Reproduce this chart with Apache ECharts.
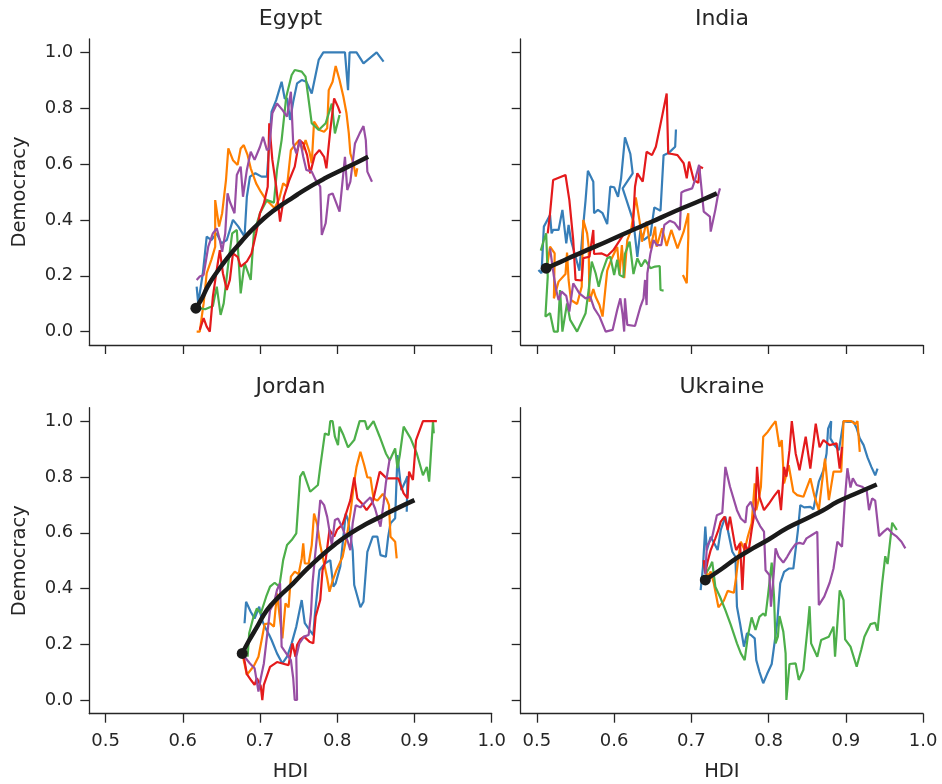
<!DOCTYPE html>
<html>
<head>
<meta charset="utf-8">
<script src="https://cdn.jsdelivr.net/npm/echarts@6/dist/echarts.min.js"></script>
<style>
html,body{margin:0;padding:0;background:#fff;}
#chart{width:942px;height:784px;}
</style>
</head>
<body>
<div id="chart"></div>
<script>
// ---------- DATA ----------
const panelNames = ['Egypt', 'India', 'Jordan', 'Ukraine'];
const xTicks = [0.5, 0.6, 0.7, 0.8, 0.9, 1.0];
const yTicks = [0.0, 0.2, 0.4, 0.6, 0.8, 1.0];
const xLabel = 'HDI';
const yLabel = 'Democracy';
const lineColors = ['#377eb8', '#ff7f00', '#4daf4a', '#e41a1c', '#984ea3'];

// Egypt
const egyptBlue = [[.618,.161],[.620,.101],[.626,.209],[.631,.340],[.637,.328],[.644,.352],[.650,.316],[.657,.328],[.665,.400],[.672,.376],[.680,.340],[.683,.483],[.687,.555],[.694,.567],[.702,.555],[.709,.555],[.715,.788],[.721,.829],[.728,.895],[.732,.835],[.735,.835],[.739,.758],[.743,.823],[.748,.889],[.754,.901],[.760,.895],[.767,.853],[.769,.859],[.776,.973],[.782,1.0],[.799,1.0],[.810,1.0],[.814,.865],[.816,1.0],[.825,1.0],[.834,.961],[.851,1.0],[.860,.967]];
const egyptOrange = [[.618,.000],[.622,.000],[.627,.101],[.631,.209],[.637,.257],[.642,.304],[.642,.471],[.647,.376],[.651,.424],[.656,.543],[.659,.656],[.665,.614],[.671,.597],[.675,.656],[.679,.668],[.684,.632],[.688,.585],[.695,.531],[.701,.501],[.708,.471],[.713,.459],[.719,.442],[.725,.477],[.730,.531],[.735,.519],[.740,.650],[.745,.668],[.751,.686],[.755,.650],[.759,.686],[.764,.644],[.767,.603],[.770,.752],[.777,.722],[.783,.716],[.787,.728],[.789,.865],[.794,.895],[.798,.951],[.803,.901],[.808,.841],[.812,.782],[.815,.710],[.817,.638],[.821,.603],[.824,.555],[.826,.585]];
const egyptGreen = [[.619,.078],[.622,.084],[.629,.080],[.639,.092],[.644,.161],[.649,.060],[.653,.101],[.659,.245],[.664,.352],[.670,.364],[.675,.137],[.680,.245],[.688,.185],[.692,.352],[.700,.424],[.709,.471],[.718,.462],[.722,.579],[.728,.686],[.734,.841],[.741,.919],[.745,.937],[.754,.931],[.759,.913],[.767,.746],[.776,.722],[.785,.746],[.793,.817],[.797,.710],[.803,.776]];
const egyptRed = [[.622,.006],[.627,.048],[.631,.018],[.635,.000],[.639,.125],[.644,.221],[.648,.292],[.652,.209],[.657,.149],[.661,.185],[.665,.280],[.671,.268],[.675,.233],[.683,.251],[.689,.280],[.695,.352],[.700,.424],[.705,.459],[.710,.519],[.712,.746],[.716,.615],[.721,.519],[.726,.394],[.731,.483],[.738,.543],[.745,.591],[.751,.686],[.756,.674],[.761,.632],[.765,.567],[.771,.632],[.777,.650],[.783,.626],[.786,.585],[.791,.722],[.796,.835],[.801,.805],[.804,.782]];
const egyptPurple = [[.618,.185],[.622,.197],[.627,.203],[.633,.304],[.639,.352],[.644,.370],[.648,.328],[.651,.286],[.655,.352],[.658,.495],[.661,.465],[.667,.424],[.670,.561],[.675,.591],[.678,.483],[.683,.579],[.688,.644],[.693,.615],[.700,.662],[.704,.698],[.709,.650],[.712,.656],[.716,.782],[.722,.817],[.729,.794],[.735,.770],[.740,.859],[.743,.674],[.747,.638],[.752,.686],[.756,.626],[.760,.579],[.767,.573],[.772,.543],[.778,.519],[.780,.346],[.785,.388],[.789,.489],[.794,.495],[.803,.430],[.810,.626],[.813,.507],[.817,.537],[.823,.674],[.829,.710],[.834,.736],[.837,.686],[.839,.573],[.845,.537]];
const egyptMean = [[.617,.084],[.625,.120],[.632,.160],[.639,.192],[.650,.235],[.661,.275],[.672,.310],[.683,.345],[.694,.376],[.705,.405],[.716,.430],[.727,.452],[.738,.472],[.749,.492],[.760,.511],[.771,.529],[.782,.546],[.793,.562],[.805,.578],[.816,.593],[.828,.609],[.840,.626]];

// India
const indiaBlue = [[.502,.221],[.506,.209],[.509,.376],[.517,.418],[.519,.352],[.521,.364],[.528,.364],[.533,.436],[.538,.316],[.541,.382],[.544,.328],[.550,.268],[.555,.218],[.559,.352],[.563,.471],[.566,.576],[.573,.537],[.574,.424],[.579,.436],[.585,.424],[.591,.385],[.595,.519],[.600,.517],[.605,.483],[.609,.549],[.614,.696],[.621,.636],[.624,.567],[.611,.513],[.616,.471],[.625,.394],[.630,.268],[.634,.362],[.638,.328],[.647,.346],[.652,.445],[.660,.433],[.664,.632],[.671,.641],[.679,.662],[.680,.724]];
const indiaOrange = [[.513,.233],[.517,.304],[.523,.280],[.522,.119],[.528,.179],[.537,.206],[.539,.283],[.541,.185],[.544,.113],[.552,.099],[.558,.161],[.560,.400],[.565,.352],[.567,.304],[.568,.107],[.573,.152],[.576,.125],[.581,.095],[.585,.054],[.591,.218],[.597,.263],[.604,.304],[.607,.206],[.610,.310],[.613,.191],[.617,.328],[.622,.364],[.628,.481],[.633,.394],[.636,.322],[.642,.394],[.647,.298],[.653,.376],[.655,.304],[.662,.370],[.668,.307],[.674,.364],[.682,.298],[.690,.358],[.696,.424],[.696,.338],[.694,.173],[.689,.203]];
const indiaGreen = [[.505,.290],[.509,.328],[.512,.352],[.514,.197],[.511,.054],[.517,.066],[.522,.000],[.527,.000],[.530,.149],[.533,.000],[.535,.006],[.539,.101],[.543,.042],[.552,.000],[.563,.066],[.567,.149],[.571,.251],[.576,.209],[.580,.161],[.584,.209],[.591,.263],[.595,.268],[.600,.203],[.604,.257],[.607,.203],[.612,.195],[.614,.278],[.620,.322],[.625,.206],[.630,.263],[.635,.233],[.640,.257],[.647,.227],[.653,.233],[.659,.235],[.660,.149],[.664,.147]];
const indiaRed = [[.514,.352],[.517,.424],[.521,.543],[.537,.561],[.542,.471],[.547,.328],[.550,.185],[.558,.183],[.560,.263],[.568,.268],[.573,.364],[.574,.278],[.584,.280],[.591,.271],[.599,.292],[.607,.326],[.613,.352],[.624,.364],[.627,.519],[.630,.567],[.637,.537],[.642,.644],[.649,.632],[.654,.662],[.662,.770],[.668,.853],[.670,.638],[.675,.636],[.682,.632],[.690,.603],[.694,.549],[.697,.609],[.703,.543],[.709,.533],[.711,.591],[.715,.585]];
const indiaPurple = [[.517,.298],[.522,.197],[.525,.149],[.528,.113],[.532,.143],[.538,.128],[.542,.072],[.547,.173],[.555,.137],[.563,.119],[.569,.125],[.574,.084],[.581,.054],[.589,.000],[.598,.006],[.604,.078],[.608,.119],[.611,.060],[.613,.000],[.614,.119],[.617,.024],[.627,.020],[.634,.089],[.638,.119],[.640,.185],[.642,.095],[.643,.209],[.647,.280],[.651,.328],[.655,.310],[.661,.310],[.665,.382],[.672,.397],[.678,.390],[.685,.364],[.687,.498],[.692,.505],[.701,.513],[.704,.537],[.710,.597],[.712,.543],[.716,.430],[.724,.412],[.725,.358],[.731,.436],[.734,.483],[.737,.513]];
const indiaMean = [[.512,.227],[.530,.249],[.550,.274],[.570,.298],[.590,.322],[.610,.347],[.630,.371],[.650,.395],[.673,.424],[.695,.450],[.715,.473],[.733,.495]];

// Jordan
const jordanBlue = [[.680,.276],[.682,.353],[.688,.317],[.693,.293],[.699,.335],[.702,.293],[.706,.264],[.712,.234],[.715,.216],[.722,.168],[.729,.132],[.735,.156],[.741,.204],[.747,.264],[.754,.359],[.758,.276],[.764,.252],[.769,.234],[.771,.305],[.777,.466],[.784,.490],[.791,.502],[.795,.407],[.798,.419],[.804,.479],[.811,.669],[.814,.646],[.820,.538],[.822,.413],[.830,.333],[.834,.353],[.839,.532],[.846,.586],[.852,.586],[.856,.520],[.863,.514],[.866,.586],[.869,.634],[.875,.652],[.878,.878],[.880,.825],[.883,.753],[.889,.789],[.891,.803],[.890,.675]];
const jordanOrange = [[.678,.156],[.683,.091],[.692,.123],[.698,.156],[.702,.214],[.706,.273],[.713,.276],[.718,.264],[.722,.383],[.726,.288],[.729,.222],[.733,.347],[.737,.333],[.740,.443],[.745,.461],[.750,.452],[.754,.508],[.756,.562],[.758,.490],[.763,.490],[.767,.556],[.770,.669],[.774,.631],[.778,.556],[.783,.490],[.787,.437],[.790,.389],[.794,.428],[.799,.466],[.807,.514],[.813,.598],[.817,.669],[.822,.783],[.825,.836],[.830,.890],[.835,.842],[.839,.798],[.843,.798],[.847,.723],[.852,.715],[.859,.739],[.864,.720],[.867,.699],[.869,.586],[.875,.568],[.877,.508]];
const jordanGreen = [[.684,.156],[.686,.240],[.691,.293],[.696,.329],[.701,.311],[.708,.371],[.713,.407],[.719,.421],[.725,.407],[.730,.502],[.735,.556],[.741,.574],[.747,.598],[.752,.801],[.756,.819],[.765,.747],[.775,.771],[.778,.836],[.784,.956],[.789,.950],[.791,1.0],[.794,1.0],[.797,.944],[.801,.914],[.803,.980],[.808,.950],[.814,.906],[.822,.932],[.829,1.0],[.836,1.0],[.839,.970],[.847,1.0],[.855,.944],[.863,.884],[.868,.860],[.875,.902],[.878,.831],[.881,.878],[.886,.980],[.895,.938],[.903,.884],[.911,.806],[.916,.836],[.919,.783],[.921,.870],[.924,1.0],[.925,.956]];
const jordanRed = [[.679,.156],[.683,.094],[.689,.070],[.693,.055],[.696,.079],[.701,.051],[.703,.001],[.705,.055],[.713,.120],[.722,.137],[.729,.132],[.737,.126],[.742,.204],[.746,.156],[.748,.198],[.752,.218],[.757,.228],[.764,.210],[.769,.204],[.772,.299],[.778,.359],[.781,.466],[.785,.502],[.790,.610],[.796,.586],[.800,.612],[.807,.631],[.817,.717],[.822,.798],[.826,.723],[.832,.705],[.838,.681],[.846,.711],[.855,.819],[.864,.795],[.879,.795],[.886,.741],[.891,.723],[.893,.819],[.898,.789],[.902,.932],[.911,1.0],[.929,1.0]];
const jordanPurple = [[.680,.156],[.687,.132],[.693,.115],[.698,.031],[.701,.079],[.705,.132],[.709,.228],[.713,.323],[.718,.347],[.722,.395],[.726,.419],[.728,.192],[.734,.168],[.740,.144],[.743,.079],[.745,.001],[.748,.001],[.747,.156],[.751,.204],[.757,.228],[.763,.234],[.766,.311],[.768,.419],[.771,.508],[.775,.622],[.778,.717],[.783,.699],[.787,.657],[.793,.556],[.797,.646],[.801,.651],[.806,.622],[.813,.574],[.817,.538],[.820,.634],[.824,.699],[.830,.691],[.837,.711],[.843,.727],[.849,.687],[.852,.657],[.856,.622],[.860,.705],[.863,.779],[.868,.866]];
const jordanMean = [[.677,.168],[.686,.215],[.696,.262],[.709,.323],[.725,.372],[.743,.419],[.760,.468],[.778,.514],[.797,.558],[.817,.598],[.838,.632],[.860,.663],[.880,.691],[.900,.717]];

// Ukraine
const ukraineBlue = [[.712,.395],[.715,.478],[.718,.622],[.720,.538],[.725,.586],[.730,.560],[.734,.538],[.738,.610],[.744,.658],[.748,.598],[.753,.532],[.757,.514],[.759,.335],[.763,.275],[.768,.192],[.772,.240],[.777,.234],[.782,.222],[.784,.144],[.788,.103],[.793,.061],[.798,.094],[.804,.130],[.807,.192],[.811,.275],[.815,.419],[.820,.460],[.826,.472],[.832,.472],[.838,.610],[.841,.699],[.846,.691],[.854,.693],[.858,.684],[.865,.783],[.871,.824],[.875,.884],[.877,.973],[.881,1.0],[.880,.938],[.885,.914],[.891,.896],[.897,1.0],[.902,.997],[.910,.997],[.914,.974],[.918,.938],[.923,.914],[.928,.870],[.933,.836],[.938,.806],[.941,.830]];
const ukraineOrange = [[.716,.490],[.721,.443],[.725,.461],[.729,.419],[.735,.333],[.742,.357],[.747,.392],[.755,.385],[.758,.443],[.761,.514],[.764,.568],[.769,.538],[.773,.586],[.778,.634],[.782,.777],[.784,.681],[.787,.717],[.790,.765],[.793,.944],[.799,.962],[.804,.982],[.809,1.0],[.814,.908],[.817,.932],[.820,.777],[.826,.842],[.832,.747],[.837,.735],[.845,.729],[.854,.795],[.859,.735],[.865,.681],[.869,.777],[.873,.866],[.878,.717],[.884,.819],[.894,.819],[.897,1.0],[.907,1.0],[.912,.989],[.915,1.0],[.918,.890]];
const ukraineGreen = [[.719,.455],[.724,.478],[.727,.496],[.731,.407],[.737,.371],[.744,.323],[.751,.270],[.759,.204],[.764,.168],[.769,.144],[.773,.228],[.778,.297],[.783,.252],[.788,.299],[.793,.311],[.796,.302],[.799,.371],[.804,.493],[.807,.371],[.809,.204],[.812,.228],[.814,.302],[.819,.246],[.822,.168],[.823,.001],[.827,.130],[.835,.132],[.839,.073],[.845,.109],[.851,.275],[.853,.337],[.855,.204],[.863,.156],[.868,.216],[.878,.228],[.884,.264],[.886,.156],[.892,.394],[.897,.359],[.899,.218],[.906,.192],[.914,.120],[.920,.182],[.924,.228],[.932,.273],[.938,.278],[.941,.249],[.947,.419],[.951,.516],[.954,.488],[.960,.636],[.966,.610]];
const ukraineRed = [[.716,.502],[.718,.455],[.721,.496],[.725,.538],[.731,.580],[.735,.610],[.738,.640],[.743,.658],[.747,.610],[.750,.658],[.756,.562],[.758,.538],[.763,.562],[.766,.395],[.769,.562],[.774,.532],[.778,.610],[.783,.693],[.785,.836],[.788,.729],[.794,.681],[.800,.703],[.807,.731],[.813,.753],[.816,.681],[.820,.836],[.823,.801],[.827,.896],[.830,1.0],[.835,.884],[.840,.824],[.848,.944],[.854,.830],[.861,.991],[.866,.906],[.871,.932],[.879,.914],[.888,.920],[.892,.830],[.895,.908]];
const ukrainePurple = [[.718,.452],[.720,.550],[.727,.586],[.733,.663],[.740,.672],[.744,.836],[.750,.765],[.759,.681],[.764,.651],[.770,.636],[.772,.693],[.777,.711],[.784,.651],[.789,.624],[.794,.604],[.796,.466],[.801,.449],[.803,.335],[.806,.431],[.809,.544],[.813,.514],[.819,.493],[.824,.514],[.829,.538],[.835,.560],[.840,.564],[.845,.560],[.849,.580],[.856,.592],[.863,.604],[.865,.341],[.872,.371],[.879,.421],[.884,.472],[.889,.568],[.895,.550],[.899,.729],[.902,.831],[.906,.762],[.909,.795],[.914,.771],[.921,.765],[.927,.751],[.930,.681],[.934,.723],[.938,.715],[.943,.588],[.949,.604],[.954,.616],[.960,.598],[.966,.586],[.972,.568],[.977,.544]];
const ukraineMean = [[.718,.431],[.740,.472],[.759,.510],[.780,.545],[.800,.576],[.824,.617],[.850,.652],[.870,.680],[.889,.711],[.910,.737],[.940,.773]];

const panelLines = [
  [egyptBlue, egyptOrange, egyptGreen, egyptRed, egyptPurple],
  [indiaBlue, indiaOrange, indiaGreen, indiaRed, indiaPurple],
  [jordanBlue, jordanOrange, jordanGreen, jordanRed, jordanPurple],
  [ukraineBlue, ukraineOrange, ukraineGreen, ukraineRed, ukrainePurple]
];
const panelMeans = [egyptMean, indiaMean, jordanMean, ukraineMean];

// ---------- LAYOUT ----------
const FONT = "'DejaVu Sans', sans-serif";
const INK = '#262626';
const gridBoxes = [
  {left: 89.3, top: 39, width: 402.4, height: 306},
  {left: 520.7, top: 39, width: 402.4, height: 306},
  {left: 89.3, top: 407.7, width: 402.4, height: 306},
  {left: 520.7, top: 407.7, width: 402.4, height: 306}
];

const grids = [], xAxes = [], yAxes = [], series = [], graphics = [];
gridBoxes.forEach((g, i) => {
  const bottomRow = i >= 2, leftCol = (i % 2) === 0;
  grids.push({left: g.left, top: g.top, width: g.width, height: g.height, containLabel: false});
  xAxes.push({
    type: 'value', gridIndex: i, min: 0.479, max: 1.0,
    axisLine: {show: true, onZero: false, lineStyle: {color: INK, width: 1.3}},
    axisTick: {show: true, length: 9, customValues: xTicks, lineStyle: {color: INK, width: 1.3}},
    axisLabel: {show: bottomRow, customValues: xTicks, formatter: v => Number(v).toFixed(1),
      fontSize: 18, fontFamily: FONT, color: INK, margin: 19},
    splitLine: {show: false}
  });
  yAxes.push({
    type: 'value', gridIndex: i, min: -0.048, max: 1.048,
    axisLine: {show: true, onZero: false, lineStyle: {color: INK, width: 1.3}},
    axisTick: {show: true, length: 9, customValues: yTicks, lineStyle: {color: INK, width: 1.3}},
    axisLabel: {show: leftCol, customValues: yTicks, formatter: v => Number(v).toFixed(1),
      fontSize: 18, fontFamily: FONT, color: INK, margin: 16},
    splitLine: {show: false}
  });
  panelLines[i].forEach((d, k) => {
    series.push({
      type: 'line', xAxisIndex: i, yAxisIndex: i, data: d, showSymbol: false, symbol: 'none',
      lineStyle: {color: lineColors[k], width: 2.2, opacity: 1}, z: 2, silent: true
    });
  });
  series.push({
    type: 'line', xAxisIndex: i, yAxisIndex: i, data: panelMeans[i], smooth: true,
    showSymbol: false, symbol: 'none', lineStyle: {color: '#1a1a1a', width: 4.5}, z: 4, silent: true
  });
  series.push({
    type: 'scatter', xAxisIndex: i, yAxisIndex: i, data: [panelMeans[i][0]],
    symbolSize: 11, itemStyle: {color: '#1a1a1a', opacity: 1}, z: 5, silent: true
  });
  const cx = g.left + g.width / 2;
  graphics.push({type: 'text', x: cx, y: g.top - 20,
    style: {text: panelNames[i], font: '22px ' + FONT, fill: INK, textAlign: 'center', textVerticalAlign: 'middle'}});
  if (leftCol) {
    graphics.push({type: 'text', x: 20, y: g.top + g.height / 2, rotation: Math.PI / 2,
      style: {text: yLabel, font: '19.5px ' + FONT, fill: INK, textAlign: 'center', textVerticalAlign: 'middle'}});
  }
  if (bottomRow) {
    graphics.push({type: 'text', x: cx, y: 772,
      style: {text: xLabel, font: '19.5px ' + FONT, fill: INK, textAlign: 'center', textVerticalAlign: 'middle'}});
  }
});

const chart = echarts.init(document.getElementById('chart'), null, {renderer: 'canvas'});
chart.setOption({
  animation: false,
  backgroundColor: '#ffffff',
  grid: grids, xAxis: xAxes, yAxis: yAxes, series: series, graphic: graphics
});
</script>
</body>
</html>
